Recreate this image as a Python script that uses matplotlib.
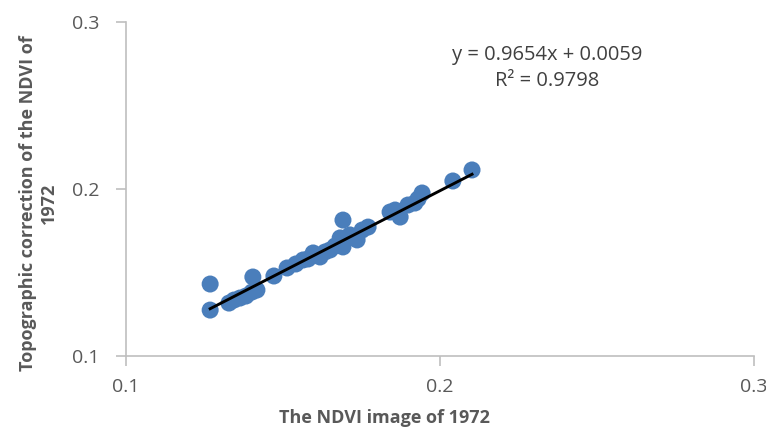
import matplotlib.pyplot as plt
import numpy as np

# NDVI values
ndvi_1972 = [0.1268, 0.1268, 0.1328, 0.1344, 0.1363, 0.1382, 0.1401, 0.1417,
             0.1404, 0.1471, 0.1513, 0.1541, 0.1564, 0.1580, 0.1596, 0.1618,
             0.1634, 0.1650, 0.1666, 0.1682, 0.1691, 0.1691, 0.1707, 0.1713,
             0.1736, 0.1752, 0.1771, 0.1841, 0.1857, 0.1873, 0.1898, 0.1920,
             0.1930, 0.1943, 0.2041, 0.2102]
ndvi_topo = [0.1275, 0.1431, 0.1317, 0.1335, 0.1347, 0.1359, 0.1383, 0.1395,
             0.1473, 0.1479, 0.1527, 0.1551, 0.1575, 0.1581, 0.1617, 0.1593,
             0.1623, 0.1635, 0.1659, 0.1707, 0.1653, 0.1814, 0.1707, 0.1725,
             0.1695, 0.1754, 0.1772, 0.1862, 0.1874, 0.1832, 0.1904, 0.1916,
             0.1940, 0.1976, 0.2048, 0.2114]

slope = 0.9654
intercept = 0.0059
r_squared = 0.9798

x_ticks = [0.1, 0.2, 0.3]
y_ticks = [0.1, 0.2, 0.3]


def main():
    plt.rcParams["font.family"] = ["Open Sans", "DejaVu Sans"]

    fig = plt.figure(figsize=(7.66, 4.3), dpi=100)
    ax = fig.add_axes([126 / 766, 1 - 356 / 430, 628 / 766, 334 / 430])

    ax.scatter(ndvi_1972, ndvi_topo, s=150, color="#4a7ebb",
               edgecolors="none", zorder=2)

    xs = np.array([min(ndvi_1972), max(ndvi_1972)])
    ax.plot(xs, slope * xs + intercept, color="black", lw=2.1, zorder=3)

    ax.set_xlim(0.1, 0.3)
    ax.set_ylim(0.1, 0.3)
    ax.set_xticks(x_ticks)
    ax.set_yticks(y_ticks)
    ax.set_xticklabels([f"{t:g}" for t in x_ticks])
    ax.set_yticklabels([f"{t:g}" for t in y_ticks])

    for side in ["top", "right"]:
        ax.spines[side].set_visible(False)
    for side in ["left", "bottom"]:
        ax.spines[side].set_color("#bfbfbf")
        ax.spines[side].set_linewidth(1.2)
    ax.tick_params(axis="both", colors="#bfbfbf", labelcolor="#595959",
                   labelsize=14, length=7, width=1.2)
    ax.tick_params(axis="x", pad=9)
    ax.tick_params(axis="y", pad=12)

    ax.set_xlabel("The NDVI image of 1972", fontsize=13,
                  fontweight="bold", color="#595959")
    ax.xaxis.set_label_coords(0.411, -0.16)
    ax.set_ylabel("Topographic correction of the NDVI of\n1972",
                  fontsize=13, fontweight="bold", color="#595959",
                  linespacing=1.2)
    ax.yaxis.set_label_coords(-0.108, 0.458)

    ax.text(0.67, 0.862, f"y = {slope}x + {intercept}\nR² = {r_squared}",
            transform=ax.transAxes, ha="center", va="center",
            fontsize=14.5, color="#404040", linespacing=1.45)

    fig.savefig("out.png", dpi=100)


if __name__ == "__main__":
    main()
